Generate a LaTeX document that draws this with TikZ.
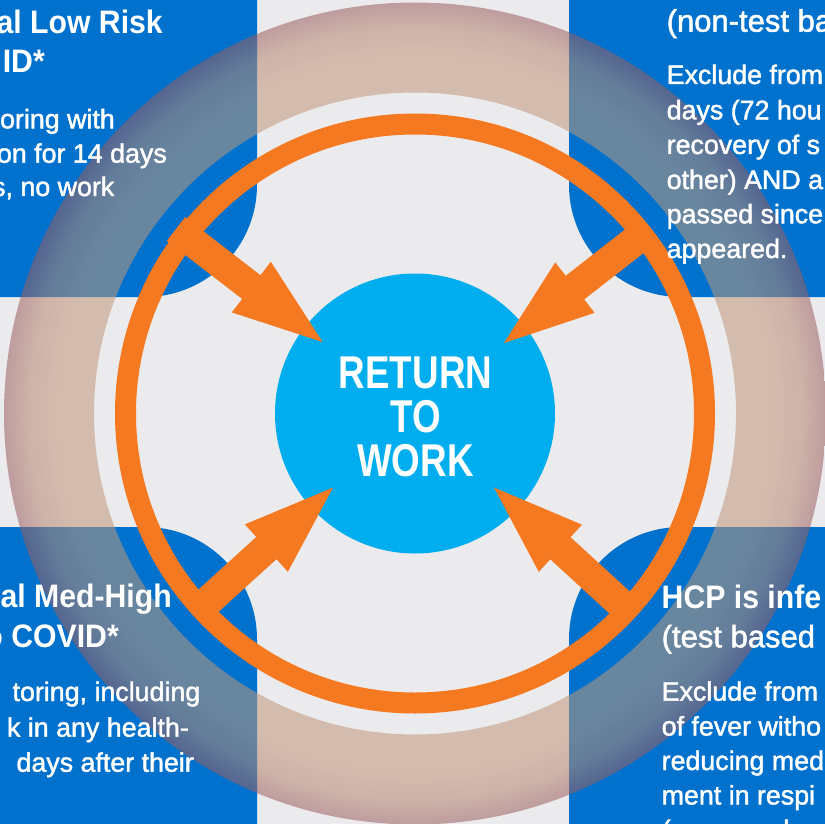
\documentclass[tikz,border=0pt]{standalone}
\usepackage{fontspec}
\setmainfont{Liberation Sans}[FakeBold=1.6]
\newfontfamily\headfont{Liberation Sans}[FakeStretch=0.93]
\newfontfamily\centrefont{Liberation Sans}[FakeStretch=0.8]
\usetikzlibrary{calc}
\definecolor{bggray}{RGB}{235,235,238}
\definecolor{boxblue}{RGB}{0,114,206}
\definecolor{ringorange}{RGB}{245,121,33}
\definecolor{hubcyan}{RGB}{0,173,238}
\definecolor{bandA}{RGB}{193,151,122}
\definecolor{bandM}{RGB}{182,134,112}
\definecolor{bandB}{RGB}{155,92,94}
\pgfdeclareradialshading{bandshade}{\pgfpoint{0bp}{0bp}}{color(0bp)=(bandA); color(21.5bp)=(bandA); color(23.5bp)=(bandM); color(25bp)=(bandB); color(50bp)=(bandB)}
\begin{document}
\begin{tikzpicture}[x=1pt,y=-1pt,
  cornerbox/.style={fill=boxblue, rounded corners=112pt},
  arrowfill/.style={fill=ringorange},
  headtxt/.style={font=\headfont\bfseries\fontsize{32.5}{39}\selectfont, text=white, inner sep=0pt},
  subtxt/.style={font=\fontsize{31}{39}\selectfont, text=white, inner sep=0pt},
  bodytxt/.style={font=\fontsize{26.8}{34}\selectfont, text=white, inner sep=0pt},
  hubtxt/.style={font=\centrefont\bfseries\fontsize{46}{44}\selectfont, text=white, inner sep=0pt, anchor=base}]
\useasboundingbox (0,0) rectangle (825,824);
\clip (0,0) rectangle (825,824);
\fill[bggray] (0,0) rectangle (825,824);
% corner boxes
\fill[cornerbox] (-200,-200) rectangle (257,297);
\fill[cornerbox] (569,-200) rectangle (1025,297);
\fill[cornerbox] (-200,527) rectangle (257,1024);
\fill[cornerbox] (569,527) rectangle (1025,1024);
% rings
\coordinate (c) at (415,413.5);
\draw[ringorange, line width=21pt] (c) circle[radius=289.5pt];
\shade[shading=bandshade, opacity=0.55, even odd rule] (c) circle[radius=411pt] (c) circle[radius=321pt];
% hub
\node[circle, fill=hubcyan, minimum size=280pt, inner sep=0pt] (hub) at (c) {};
% arrows
\coordinate (tltail) at (176,229);
\coordinate (tltip) at (322.6,342);
\coordinate (trtail) at (650,229);
\coordinate (trtip) at (504,343);
\coordinate (bltail) at (196,612);
\coordinate (bltip) at (333,487.6);
\coordinate (brtail) at (630,612);
\coordinate (brtip) at (494,487.5);
\foreach \t/\p in {tltail/tltip, trtail/trtip, bltail/bltip, brtail/brtip}{
  \coordinate (hb) at ($(\p)!90pt!(\t)$);
  \fill[arrowfill] ($(\t)!15pt!90:(\p)$) -- ($(hb)!15pt!90:(\p)$) -- ($(hb)!32pt!90:(\p)$) -- (\p)
     -- ($(hb)!32pt!-90:(\p)$) -- ($(hb)!15pt!-90:(\p)$) -- ($(\t)!15pt!-90:(\p)$) -- cycle;
}
% hub text
\node[hubtxt] (rt1) at (415.5,388.3) {RETURN};
\node[hubtxt] (rt2) at (416,432.3) {TO};
\node[hubtxt] (rt3) at (415.5,476.7) {WORK};
% top-left
\node[headtxt, anchor=base east] (tlh1) at (163,33.3) {al Low Risk};
\node[headtxt, anchor=base east] (tlh2) at (45,72.7) {ID*};
\node[bodytxt, anchor=base east] (tlb1) at (115,128.3) {oring with};
\node[bodytxt, anchor=base east] (tlb2) at (167,162.7) {on for 14 days};
\node[bodytxt, anchor=base east] (tlb3) at (114.5,196) {s, no work};
% top-right
\node[subtxt, anchor=base west] (trh2) at (666.5,31.7) {(non-test ba};
\node[bodytxt, anchor=base west] (trb1) at (666.5,84) {Exclude from};
\node[bodytxt, anchor=base west] (trb2) at (666.5,119.3) {days (72 hou};
\node[bodytxt, anchor=base west] (trb3) at (666.5,154) {recovery of s};
\node[bodytxt, anchor=base west] (trb4) at (666.5,189) {other) AND a};
\node[bodytxt, anchor=base west] (trb5) at (666.5,223.3) {passed since};
\node[bodytxt, anchor=base west] (trb6) at (666.5,258) {appeared.};
% bottom-left
\node[headtxt, anchor=base east] (blh1) at (172,607.3) {al Med-High};
\node[headtxt, anchor=base east] (blh2) at (119,647.3) {o COVID*};
\node[bodytxt, anchor=base east] (blb1) at (200.5,701) {toring, including};
\node[bodytxt, anchor=base east] (blb2) at (189,736.7) {k in any health-};
\node[bodytxt, anchor=base east] (blb3) at (194,771.7) {days after their};
% bottom-right
\node[headtxt, anchor=base west] (brh1) at (661.5,608.3) {HCP is infe};
\node[subtxt, anchor=base west] (brh2) at (661.5,647.3) {(test based};
\node[bodytxt, anchor=base west] (brb1) at (661.5,700.7) {Exclude from};
\node[bodytxt, anchor=base west] (brb2) at (661.5,735.5) {of fever witho};
\node[bodytxt, anchor=base west] (brb3) at (661.5,770) {reducing med};
\node[bodytxt, anchor=base west] (brb4) at (661.5,804.5) {ment in respi};
\node[bodytxt, anchor=base west] (brb5) at (661.5,839) {(e.g. cough, s};
\end{tikzpicture}
\end{document}
